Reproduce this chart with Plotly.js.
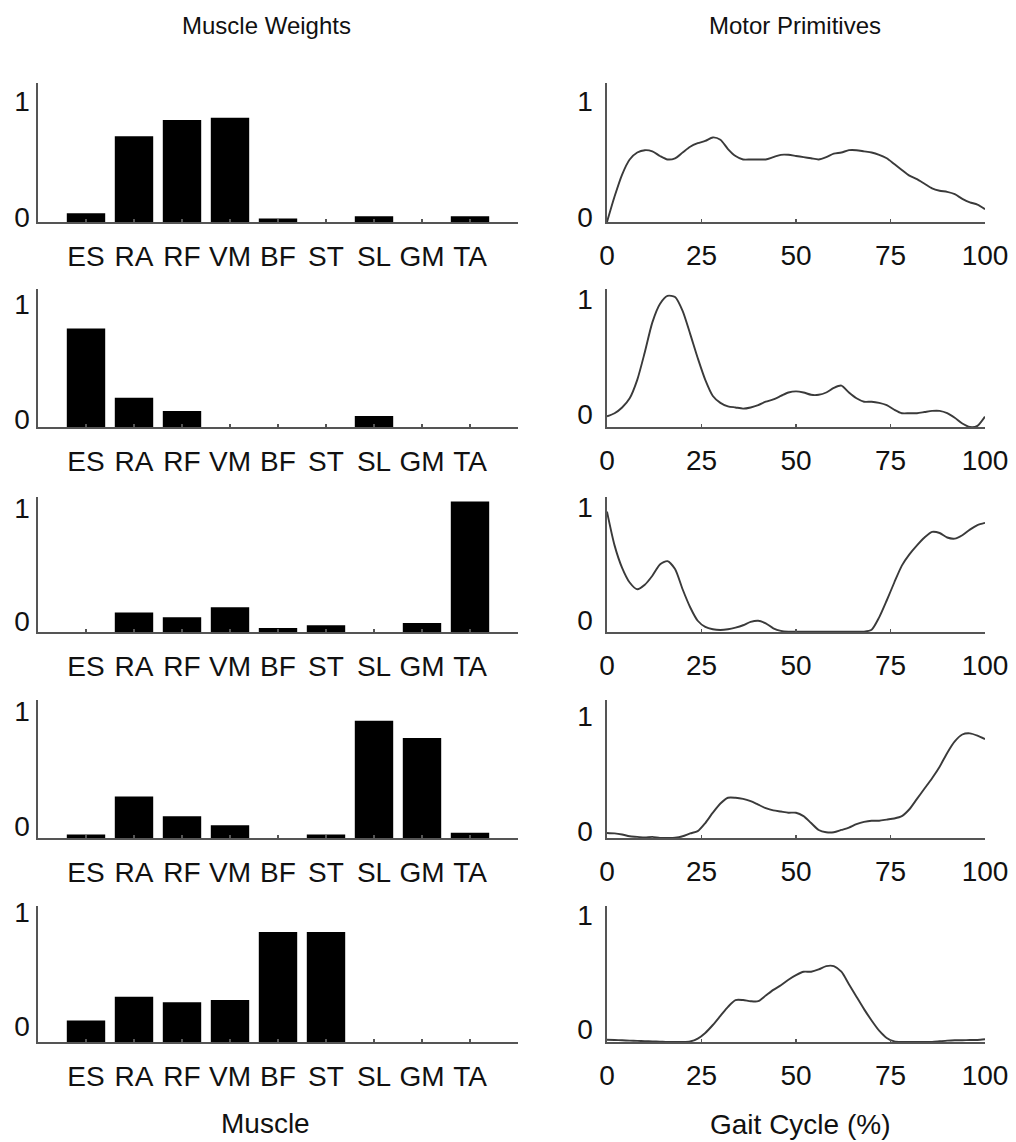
<!DOCTYPE html>
<html>
<head>
<meta charset="utf-8">
<script src="https://cdn.plot.ly/plotly-3.0.1.min.js"></script>
<style>
  html, body { margin: 0; padding: 0; background: #fff; }
  #chart { width: 1016px; height: 1142px; }
</style>
</head>
<body>
<div id="chart"></div>
<script>
// ---------------- data ----------------
const muscles = ['ES', 'RA', 'RF', 'VM', 'BF', 'ST', 'SL', 'GM', 'TA'];

const weights1 = [0.075, 0.74, 0.88, 0.90, 0.03, 0.0, 0.05, 0.0, 0.05];
const weights2 = [0.856, 0.255, 0.14, 0.0, 0.0, 0.0, 0.096, 0.0, 0.0];
const weights3 = [0.0, 0.174, 0.13, 0.22, 0.035, 0.06, 0.0, 0.08, 1.16];
const weights4 = [0.03, 0.36, 0.19, 0.11, 0.0, 0.03, 1.02, 0.87, 0.045];
const weights5 = [0.19, 0.40, 0.35, 0.37, 0.97, 0.97, 0.0, 0.0, 0.0];

const gaitCycle = [0, 2, 4, 6, 8, 10, 12, 14, 16, 18, 20, 22, 24, 26, 28, 30, 32, 34, 36, 38,
  40, 42, 44, 46, 48, 50, 52, 54, 56, 58, 60, 62, 64, 66, 68, 70, 72, 74, 76, 78,
  80, 82, 84, 86, 88, 90, 92, 94, 96, 98, 100];

const primitive1 = [0.0, 0.22, 0.41, 0.54, 0.60, 0.62, 0.61, 0.57, 0.54, 0.55, 0.60, 0.65, 0.68, 0.70, 0.73, 0.71, 0.63, 0.57, 0.54, 0.54,
  0.54, 0.54, 0.56, 0.58, 0.58, 0.57, 0.56, 0.55, 0.54, 0.56, 0.59, 0.60, 0.62, 0.62, 0.61, 0.60, 0.58, 0.55, 0.50, 0.45,
  0.40, 0.37, 0.33, 0.29, 0.27, 0.26, 0.24, 0.20, 0.17, 0.15, 0.11];
const primitive2 = [0.093, 0.12, 0.17, 0.25, 0.41, 0.65, 0.91, 1.07, 1.14, 1.13, 1.01, 0.81, 0.60, 0.41, 0.27, 0.21, 0.18, 0.17, 0.16, 0.17,
  0.19, 0.22, 0.24, 0.27, 0.30, 0.31, 0.30, 0.28, 0.28, 0.30, 0.34, 0.36, 0.30, 0.25, 0.22, 0.22, 0.21, 0.19, 0.15, 0.12,
  0.12, 0.12, 0.13, 0.14, 0.14, 0.12, 0.08, 0.03, 0.0, 0.01, 0.09];
const primitive3 = [1.07, 0.77, 0.57, 0.44, 0.38, 0.42, 0.50, 0.60, 0.63, 0.56, 0.38, 0.22, 0.10, 0.045, 0.024, 0.018, 0.024, 0.039, 0.06, 0.09,
  0.10, 0.077, 0.033, 0.01, 0.003, 0.002, 0.002, 0.002, 0.002, 0.002, 0.002, 0.002, 0.002, 0.002, 0.003, 0.02, 0.13, 0.28, 0.44, 0.59,
  0.69, 0.77, 0.84, 0.89, 0.88, 0.84, 0.83, 0.86, 0.91, 0.95, 0.97];
const primitive4 = [0.044, 0.04, 0.03, 0.015, 0.01, 0.004, 0.01, 0.0, 0.0, 0.002, 0.015, 0.04, 0.06, 0.13, 0.22, 0.30, 0.35, 0.35, 0.34, 0.32,
  0.29, 0.26, 0.24, 0.23, 0.22, 0.22, 0.19, 0.13, 0.07, 0.05, 0.05, 0.07, 0.09, 0.12, 0.14, 0.15, 0.15, 0.16, 0.17, 0.19,
  0.25, 0.34, 0.43, 0.52, 0.62, 0.74, 0.84, 0.90, 0.91, 0.89, 0.86];
const primitive5 = [0.02, 0.018, 0.015, 0.012, 0.01, 0.008, 0.005, 0.003, 0.0, 0.0, 0.0, 0.005, 0.03, 0.08, 0.15, 0.23, 0.31, 0.37, 0.37, 0.36,
  0.36, 0.41, 0.46, 0.50, 0.55, 0.59, 0.62, 0.62, 0.64, 0.67, 0.67, 0.62, 0.51, 0.40, 0.29, 0.19, 0.10, 0.036, 0.006, 0.0,
  0.0, 0.0, 0.0, 0.0, 0.006, 0.012, 0.015, 0.015, 0.018, 0.018, 0.024];

const gaitTicks = [0, 25, 50, 75, 100];
const weightTicks = [0, 1];

// ---------------- layout helpers ----------------
const W = 1016, H = 1142;
const weightsAll = [weights1, weights2, weights3, weights4, weights5];
const primAll = [primitive1, primitive2, primitive3, primitive4, primitive5];
const rowsPx = [[83, 222], [289, 427], [497, 632], [700, 838], [906, 1042]];
const leftShift = [-5, -8, -11, -12, -16];
const rightShift = [-5, -13, -12, -7, -13];
const leftDom = [38 / W, 518 / W];
const rightDom = [607 / W, 985 / W];

const tickFont = { family: 'Liberation Sans, Arial, Helvetica, sans-serif', size: 28, color: '#111' };
const axisLine = { showline: true, linecolor: '#555', linewidth: 1.6, showgrid: false, zeroline: false, mirror: false };

const traces = [];
const layout = {
  width: W, height: H, autosize: false,
  margin: { l: 0, r: 0, t: 0, b: 0 },
  paper_bgcolor: '#fff', plot_bgcolor: '#fff',
  showlegend: false,
  bargap: 0.2,
  annotations: []
};

for (let r = 0; r < 5; r++) {
  const [t, b] = rowsPx[r];
  const yDom = [(H - b) / H, (H - t) / H];
  const li = 2 * r + 1, ri = 2 * r + 2;

  traces.push({
    type: 'bar', x: muscles, y: weightsAll[r],
    xaxis: 'x' + li, yaxis: 'y' + li,
    marker: { color: '#000', line: { width: 0 } },
    hoverinfo: 'x+y'
  });
  traces.push({
    type: 'scatter', mode: 'lines', x: gaitCycle, y: primAll[r],
    xaxis: 'x' + ri, yaxis: 'y' + ri,
    line: { color: '#3a3a3a', width: 1.9, shape: 'spline', smoothing: 0.7 },
    hoverinfo: 'x+y'
  });

  layout['xaxis' + li] = Object.assign({}, axisLine, {
    domain: leftDom, anchor: 'y' + li, type: 'category',
    range: [-1, muscles.length],
    ticks: 'inside', ticklen: 3, tickcolor: '#555', tickwidth: 1.2,
    tickfont: tickFont, ticklabelstandoff: 9, fixedrange: true
  });
  layout['yaxis' + li] = Object.assign({}, axisLine, {
    domain: yDom, anchor: 'x' + li, range: [0, 1.2],
    tickvals: weightTicks, ticktext: weightTicks.map(String),
    ticks: '', tickfont: tickFont, ticklabelshift: leftShift[r], ticklabelstandoff: 1,
    fixedrange: true
  });
  layout['xaxis' + ri] = Object.assign({}, axisLine, {
    domain: rightDom, anchor: 'y' + ri, range: [0, 100],
    tickvals: gaitTicks, ticktext: gaitTicks.map(String),
    ticks: 'inside', ticklen: 3, tickcolor: '#555', tickwidth: 1.2,
    tickfont: tickFont, ticklabelstandoff: 8, fixedrange: true
  });
  layout['yaxis' + ri] = Object.assign({}, axisLine, {
    domain: yDom, anchor: 'x' + ri, range: [0, 1.2],
    tickvals: weightTicks, ticktext: weightTicks.map(String),
    ticks: '', tickfont: tickFont, ticklabelshift: rightShift[r], ticklabelstandoff: 7,
    fixedrange: true
  });
}

const titleFont = { family: 'Liberation Sans, Arial, Helvetica, sans-serif', size: 24, color: '#111' };
const labelFont = { family: 'Liberation Sans, Arial, Helvetica, sans-serif', size: 28, color: '#111' };
layout.annotations.push(
  { text: 'Muscle Weights', xref: 'paper', yref: 'paper', x: 266 / W, y: (H - 25) / H, showarrow: false, font: titleFont, xanchor: 'center', yanchor: 'middle' },
  { text: 'Motor Primitives', xref: 'paper', yref: 'paper', x: 795 / W, y: (H - 25) / H, showarrow: false, font: titleFont, xanchor: 'center', yanchor: 'middle' },
  { text: 'Muscle', xref: 'paper', yref: 'paper', x: 265 / W, y: (H - 1123) / H, showarrow: false, font: labelFont, xanchor: 'center', yanchor: 'middle' },
  { text: 'Gait Cycle (%)', xref: 'paper', yref: 'paper', x: 800 / W, y: (H - 1124) / H, showarrow: false, font: labelFont, xanchor: 'center', yanchor: 'middle' }
);

Plotly.newPlot('chart', traces, layout, { displayModeBar: false, staticPlot: true });
</script>
</body>
</html>
